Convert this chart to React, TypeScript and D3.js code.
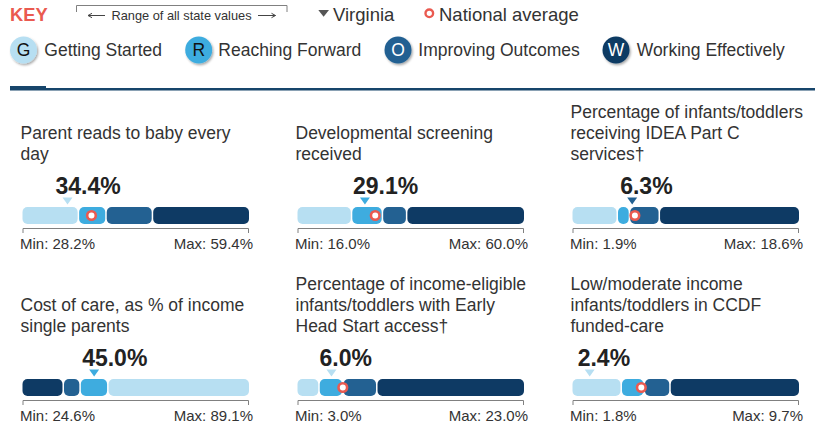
import React from 'react';
import * as d3 from 'd3';

const titles: string[][] = [
  ['Parent reads to baby every', 'day'],
  ['Developmental screening', 'received'],
  ['Percentage of infants/toddlers', 'receiving IDEA Part C', 'services†'],
  ['Cost of care, as % of income', 'single parents'],
  ['Percentage of income-eligible', 'infants/toddlers with Early', 'Head Start access†'],
  ['Low/moderate income', 'infants/toddlers in CCDF', 'funded-care'],
];
const minValues = [28.2, 16.0, 1.9, 24.6, 3.0, 1.8];
const maxValues = [59.4, 60.0, 18.6, 89.1, 23.0, 9.7];
const virginiaValues = [34.4, 29.1, 6.3, 45.0, 6.0, 2.4];
const nationalValues: (number | null)[] = [37.7, 31.1, 6.5, null, 7.0, 4.2];
const tierBreaks = [
  [35.9, 39.7, 46.1],
  [26.5, 32.5, 37.2],
  [5.2, 6.1, 8.3],
  [36.2, 41.0, 48.9],
  [4.9, 7.0, 10.0],
  [3.5, 4.3, 5.2],
];
const reversedScale = [false, false, false, true, false, false];
const virginiaTier = ['G', 'R', 'O', 'R', 'G', 'G'];
const tierKeys = ['G', 'R', 'O', 'W'];
const tierNames = ['Getting Started', 'Reaching Forward', 'Improving Outcomes', 'Working Effectively'];

const tierColor: Record<string, string> = {
  G: '#b7dff2',
  R: '#3eacdf',
  O: '#236192',
  W: '#0e3a64',
};
const tierLetterColor: Record<string, string> = { G: '#111', R: '#111', O: '#fff', W: '#fff' };

const FONT = '"Liberation Sans", Arial, Helvetica, sans-serif';
const TEXT = '#333';
const RED = '#ea5a50';

const colX = [22.5, 297.5, 572.5];
const rowY = [0, 172];
const BAR_W = 226.5;

const legendCircleX = [23.5, 198.7, 398, 616];
const legendTextX = [44.3, 218.3, 418.3, 636.7];

function Panel({ i }: { i: number }) {
  const x0 = colX[i % 3];
  const dy = rowY[Math.floor(i / 3)];
  const x = d3.scaleLinear().domain([minValues[i], maxValues[i]]).range([x0, x0 + BAR_W]);
  const order = reversedScale[i] ? [...tierKeys].reverse() : tierKeys;
  const edges = [minValues[i], ...tierBreaks[i], maxValues[i]];
  const barTop = 207 + dy;
  const barH = 17;
  const fmt = d3.format('.1f');
  const vx = x(virginiaValues[i]);
  const lines = titles[i];
  const lastBase = 160 + dy;
  const nat = nationalValues[i];
  return (
    <g>
      {lines.map((t, k) => (
        <text
          key={k}
          x={x0 - 2}
          y={lastBase - (lines.length - 1 - k) * 21}
          fontSize={17.5}
          fill={TEXT}
          fontFamily={FONT}
        >
          {t}
        </text>
      ))}
      <text x={vx - 12} y={194 + dy} fontSize={23} fontWeight="bold" fill="#222" fontFamily={FONT}>
        {fmt(virginiaValues[i]) + '%'}
      </text>
      <path
        d={`M${vx - 5},${197.5 + dy}L${vx + 5},${197.5 + dy}L${vx},${204.5 + dy}Z`}
        fill={tierColor[virginiaTier[i]]}
      />
      {order.map((t, k) => {
        const a = x(edges[k]) + (k === 0 ? 0 : 0.75);
        const b = x(edges[k + 1]) - (k === 3 ? 0 : 0.75);
        return (
          <rect key={t} x={a} y={barTop} width={b - a} height={barH} rx={5} ry={5} fill={tierColor[t]} />
        );
      })}
      {nat !== null && (
        <circle cx={x(nat)} cy={barTop + barH / 2} r={4.3} fill="#fff" stroke={RED} strokeWidth={2.6} />
      )}
      <path
        d={`M${x0 + 0.5},${233 + dy}V${228.5 + dy}H${x0 + BAR_W - 0.5}V${233 + dy}`}
        fill="none"
        stroke="#808080"
        strokeWidth={1}
      />
      <text x={x0 - 2.5} y={248.5 + dy} fontSize={15} fill={TEXT} fontFamily={FONT}>
        {'Min: ' + fmt(minValues[i]) + '%'}
      </text>
      <text x={x0 + BAR_W + 4} y={248.5 + dy} fontSize={15} fill={TEXT} fontFamily={FONT} textAnchor="end">
        {'Max: ' + fmt(maxValues[i]) + '%'}
      </text>
    </g>
  );
}

export default function App() {
  return (
    <svg
      width={815}
      height={423}
      viewBox="0 0 815 423"
      style={{ position: 'absolute', left: 0, top: 0, background: '#fff' }}
    >
      <defs>
        <filter id="sh" x="-30%" y="-30%" width="170%" height="170%">
          <feDropShadow dx={1.2} dy={1.6} stdDeviation={1.2} floodColor="#000" floodOpacity={0.35} />
        </filter>
      </defs>
      <rect x={0} y={0} width={815} height={423} fill="#fff" />
      {/* Key row 1 */}
      <text x={10} y={21} fontSize={18.3} fontWeight="bold" fill={RED} fontFamily={FONT}>
        KEY
      </text>
      <path d="M76.5,12V5.5H287V12" fill="none" stroke="#808080" strokeWidth={1} />
      <line x1={88} y1={15.5} x2={105} y2={15.5} stroke="#444" strokeWidth={1} />
      <path d="M88,15.5L92,13.3M88,15.5L92,17.7" stroke="#444" strokeWidth={1} fill="none" />
      <line x1={258} y1={15.5} x2={275.5} y2={15.5} stroke="#444" strokeWidth={1} />
      <path d="M275.5,15.5L271.5,13.3M275.5,15.5L271.5,17.7" stroke="#444" strokeWidth={1} fill="none" />
      <text x={181.5} y={19.5} fontSize={12.8} fill={TEXT} fontFamily={FONT} textAnchor="middle">
        Range of all state values
      </text>
      <path d="M318.3,10L329,10L323.6,16.7Z" fill="#555" />
      <text x={333} y={21} fontSize={18.5} fill={TEXT} fontFamily={FONT}>
        Virginia
      </text>
      <circle cx={429.3} cy={13.3} r={3.8} fill="#fff" stroke={RED} strokeWidth={2.4} />
      <text x={439} y={21} fontSize={18.5} fill={TEXT} fontFamily={FONT}>
        National average
      </text>
      {/* Key row 2 */}
      {tierKeys.map((t, k) => (
        <g key={t}>
          <circle cx={legendCircleX[k]} cy={50} r={13.5} fill={tierColor[t]} filter="url(#sh)" />
          <text
            x={legendCircleX[k]}
            y={56.3}
            fontSize={17.5}
            fill={tierLetterColor[t]}
            fontFamily={FONT}
            textAnchor="middle"
          >
            {t}
          </text>
          <text x={legendTextX[k]} y={56} fontSize={17.5} fill={TEXT} fontFamily={FONT}>
            {tierNames[k]}
          </text>
        </g>
      ))}
      {/* rule */}
      <rect x={10} y={86} width={36} height={4.5} fill="#17456b" />
      <rect x={46} y={88} width={769} height={2.5} fill="#17456b" />
      {titles.map((_, i) => (
        <Panel key={i} i={i} />
      ))}
    </svg>
  );
}
